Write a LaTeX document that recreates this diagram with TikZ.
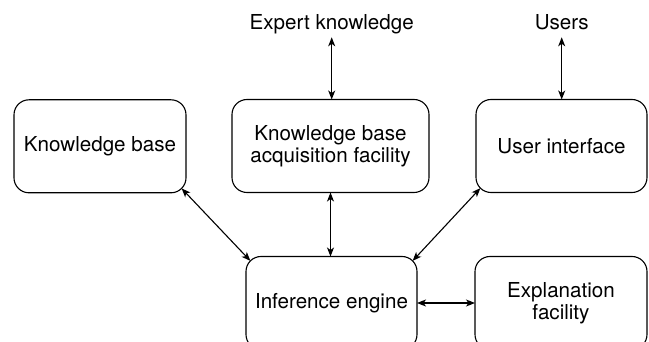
\documentclass[tikz,border=0pt]{standalone}
\usepackage{fontspec}
\setmainfont{TeX Gyre Heros}
\usetikzlibrary{arrows.meta,calc}
\begin{document}
\begin{tikzpicture}[x=1pt,y=1pt,
  font=\fontsize{20.6}{22.3}\selectfont,
  box/.style={draw, line width=1.1pt, rounded corners=15pt, outer sep=0pt,
    minimum height=93pt, align=center, inner sep=2pt},
  lbl/.style={inner xsep=0pt, inner ysep=3.5pt, text depth=4.5pt, anchor=base, outer sep=0pt},
  conn/.style={line width=1.1pt, {Stealth[length=9pt,width=7pt,inset=2.5pt]}-{Stealth[length=9pt,width=7pt,inset=2.5pt]}}
]
\useasboundingbox (0,0) rectangle (649,-342);
\clip (0,0) rectangle (649,-342);
\node[box, minimum width=172pt] (kb) at (100,-146.3) {Knowledge base};
\node[box, minimum width=197pt] (kba) at (330.5,-146) {Knowledge base\\acquisition facility};
\node[box, minimum width=171pt] (ui) at (561.5,-146) {User interface};
\node[box, minimum width=171pt] (ie) at (331.5,-303) {Inference engine};
\node[box, minimum width=172pt] (ex) at (561,-303) {Explanation\\facility};
\node[lbl] (ek) at (331.7,-29.3) {Expert knowledge};
\node[lbl] (us) at (561.7,-29.3) {Users};
\draw[conn] (ek.south) -- (ek.south |- kba.north);
\draw[conn] (us.south) -- (us.south |- ui.north);
\draw[conn] (kba.south) -- (kba.south |- ie.north);
\draw[conn] ($(kb.south east)+(-4.4,4.4)$) -- ($(ie.north west)+(4.4,-4.4)$);
\draw[conn] ($(ui.south west)+(4.4,4.4)$) -- ($(ie.north east)+(-4.4,-4.4)$);
\draw[conn] (ie.east) -- (ex.west);
\end{tikzpicture}
\end{document}
